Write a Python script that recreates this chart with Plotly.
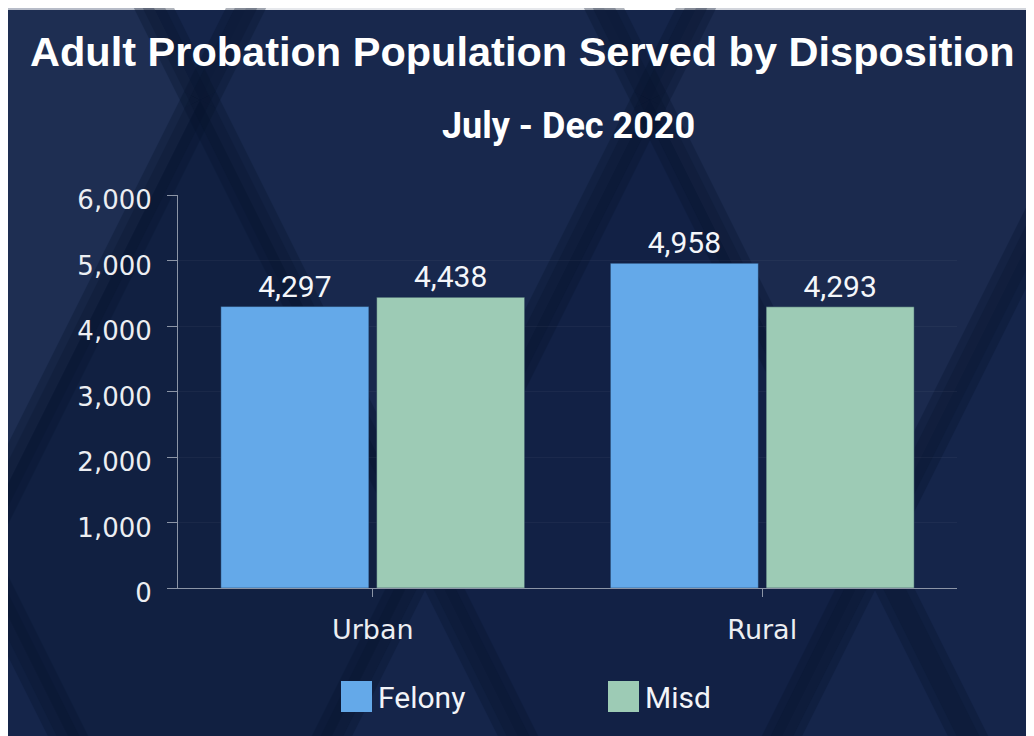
import plotly.graph_objects as go

categories = ["Urban", "Rural"]
series_names = ["Felony", "Misd"]
felony = [4297, 4958]
misd = [4438, 4293]
colors = ["#64a9e9", "#9dcbb5"]
title_text = "Adult Probation Population Served by Disposition"
subtitle_text = "July - Dec 2020"
y_ticks = [0, 1000, 2000, 3000, 4000, 5000, 6000]

# page has an 8px body margin; reference coords are page coords
OFF = 8
W, H = 1026, 728
L, R, T, B = 178 - OFF, W - (957 - OFF), 195 - OFF, H - (588 - OFF)
PW, PH = W - L - R, H - T - B


def px(x):
    return (x - OFF - L) / PW


def py(y):
    return (H - B - (y - OFF)) / PH


fig = go.Figure()
for name, vals, col in zip(series_names, [felony, misd], colors):
    fig.add_trace(go.Bar(
        x=categories, y=vals, name=name,
        marker=dict(color=col, line=dict(color="rgba(20,40,70,0.45)", width=1)),
        texttemplate="%{y:,}", textposition="outside",
        textfont=dict(family="Roboto", size=30, color="#f4f6fa"),
        cliponaxis=False, showlegend=False,
    ))

shapes = []
shapes.append(dict(type="rect", xref="paper", yref="paper", layer="below",
                   x0=px(8), x1=px(1040), y0=py(740), y1=py(10),
                   fillcolor="#15254a", line=dict(width=0)))


def poly(pts, color):
    d = "M " + " L ".join(f"{px(x):.5f},{py(y):.5f}" for x, y in pts) + " Z"
    shapes.append(dict(type="path", xref="paper", yref="paper", layer="below",
                       path=d, fillcolor=color, line=dict(width=0)))


# lighter / darker diamond tiles of the background pattern
poly([(-25, -350), (200, 100), (-25, 550), (-250, 100)], "rgba(48,64,96,0.35)")
poly([(875, -350), (1100, 100), (875, 550), (650, 100)], "rgba(48,64,96,0.22)")
poly([(425, -350), (650, 100), (425, 550), (200, 100)], "rgba(48,64,96,0.12)")
poly([(200, 100), (425, 550), (200, 1000), (-25, 550)], "rgba(0,10,30,0.18)")
poly([(650, 100), (875, 550), (650, 1000), (425, 550)], "rgba(0,10,30,0.12)")

# dark bands of the lattice
for j in range(-1, 3):
    for i in range(-1, 3):
        x = 200 + 450 * i + (225 if j % 2 else 0)
        y = 100 + 450 * j
        for dx in (-225, 225):
            shapes.append(dict(type="line", xref="paper", yref="paper", layer="below",
                               x0=px(x), y0=py(y), x1=px(x + dx), y1=py(y + 450),
                               line=dict(color="rgba(6,18,44,0.32)", width=36)))
            shapes.append(dict(type="line", xref="paper", yref="paper", layer="below",
                               x0=px(x), y0=py(y), x1=px(x + dx), y1=py(y + 450),
                               line=dict(color="rgba(6,18,44,0.25)", width=20)))

# legend drawn as squares + labels
legend_x = [341, 608]
annotations = []
for name, col, x0 in zip(series_names, colors, legend_x):
    shapes.append(dict(type="rect", xref="paper", yref="paper",
                       x0=px(x0), x1=px(x0 + 31), y0=py(712), y1=py(681),
                       fillcolor=col, line=dict(width=0)))
    annotations.append(dict(xref="paper", yref="paper", x=px(x0 + 35), y=py(697),
                            xanchor="left", yanchor="middle", showarrow=False,
                            text=name, font=dict(family="Roboto", size=30, color="#f2f4f8")))

annotations.append(dict(xref="paper", yref="paper", x=px(522), y=py(51),
                        xanchor="center", yanchor="middle", showarrow=False,
                        text="<b>" + title_text + "</b>",
                        font=dict(family="Liberation Sans", size=41.5, color="#ffffff")))
annotations.append(dict(xref="paper", yref="paper", x=px(568), y=py(126),
                        xanchor="center", yanchor="middle", showarrow=False,
                        text="<b>" + subtitle_text + "</b>",
                        font=dict(family="Roboto", size=36, color="#ffffff")))

fig.update_layout(
    width=W, height=H,
    margin=dict(l=L, r=R, t=T, b=B, pad=0),
    paper_bgcolor="#ffffff", plot_bgcolor="rgba(0,0,0,0)",
    barmode="group", bargap=0.2, bargroupgap=0.05,
    shapes=shapes, annotations=annotations,
    showlegend=False,
)
fig.update_yaxes(range=[0, 6000], tickvals=y_ticks, tickformat=",",
                 showline=True, linecolor="#8c95a6", linewidth=1,
                 ticks="outside", ticklen=10, tickcolor="#8c95a6",
                 ticklabelstandoff=10, ticklabelshift=5,
                 showgrid=True, gridcolor="rgba(255,255,255,0.04)",
                 zeroline=False,
                 tickfont=dict(family="DejaVu Sans", size=26, color="#eceef2"))
fig.update_xaxes(showline=True, linecolor="#8c95a6", linewidth=1,
                 ticks="outside", ticklen=8, tickcolor="#8c95a6",
                 ticklabelstandoff=10,
                 showgrid=False,
                 tickfont=dict(family="DejaVu Sans", size=27, color="#eceef2"))

fig.write_html("out.html")
